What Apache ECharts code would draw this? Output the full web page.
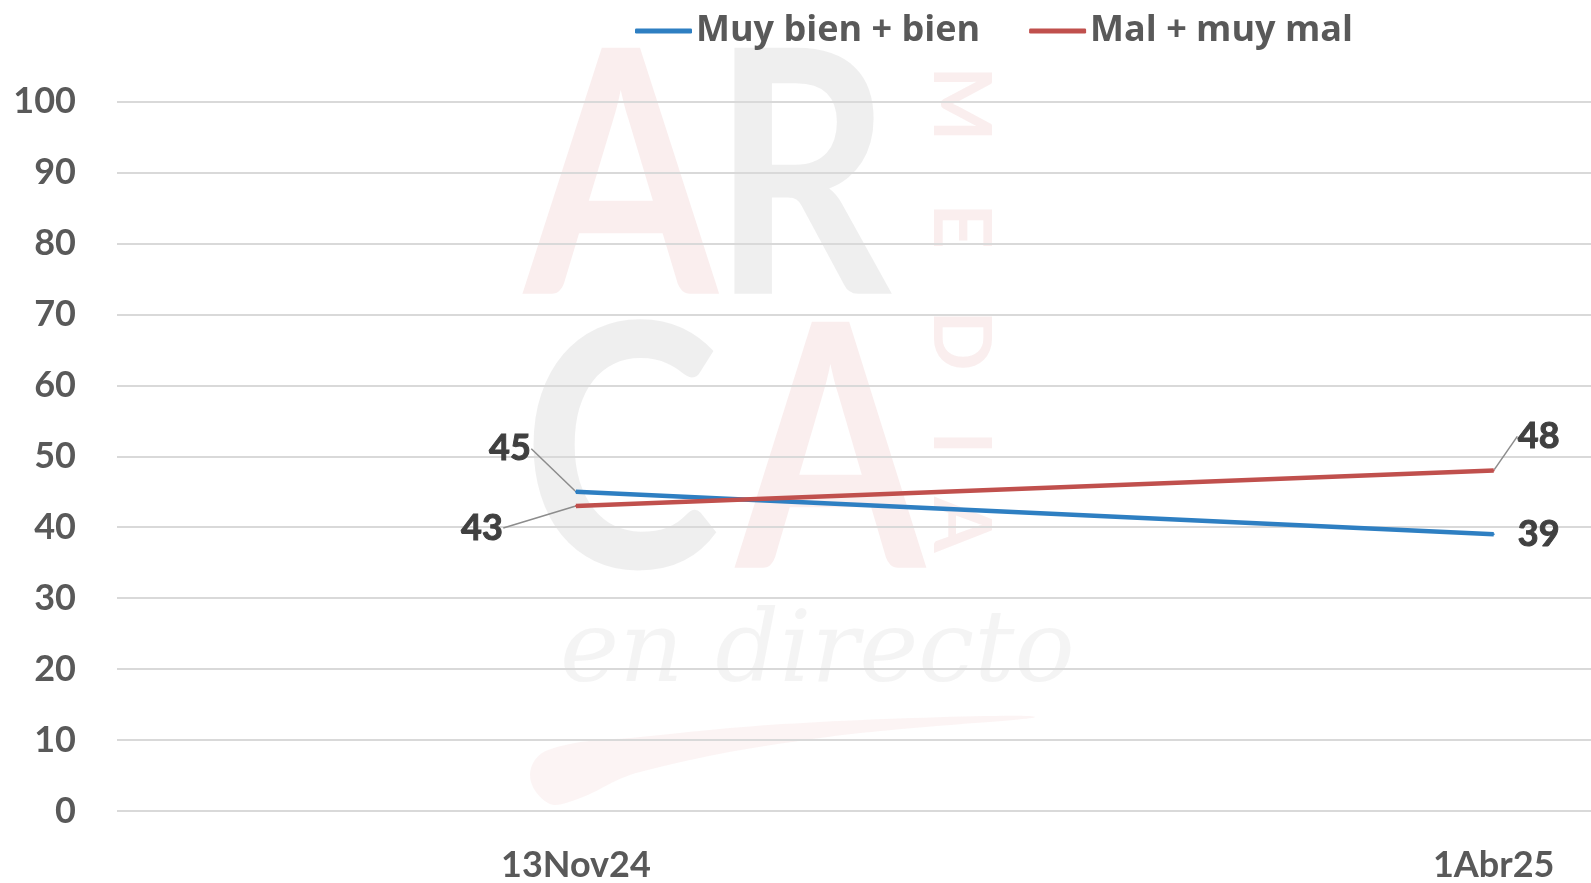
<!DOCTYPE html>
<html>
<head>
<meta charset="utf-8">
<title>Muy bien + bien / Mal + muy mal</title>
<script src="https://cdn.jsdelivr.net/npm/echarts@6/dist/echarts.min.js"></script>
<style>
    html, body { margin: 0; padding: 0; background: #fff; }
    #chart { width: 1591px; height: 883px; }
</style>
</head>
<body>
<div id="chart"></div>
<script>
// data
const categories = ['13Nov24', '1Abr25']
const seriesNames = ['Muy bien + bien', 'Mal + muy mal']
const goodValues = [45, 39]
const badValues = [43, 48]
const yTicks = [0, 10, 20, 30, 40, 50, 60, 70, 80, 90, 100]

// label offsets (px) from the point, and whether a leader line is drawn
const goodLabelShift = [[-66, -43], [45, 0]]
const goodLeader = [true, false]
const badLabelShift = [[-94, 22], [45, -34]]
const badLeader = [true, true]

const FONT = 'Lato, "Open Sans", sans-serif'
const BLUE = '#2e7fc2'
const RED = '#c0504d'

const chart = echarts.init(document.getElementById('chart'))

function makeSeries(name, values, color, shifts, leaders) {
    return {
        name: name,
        type: 'line',
        // x is the category index, so the dates sit where the original puts them
        data: values.map((v, i) => ({ value: [i, v], labelLine: { show: leaders[i] } })),
        symbol: 'circle',
        symbolSize: 2,
        showSymbol: true,
        itemStyle: { color: color },
        lineStyle: { color: color, width: 4.5 },
        z: 5,
        label: {
            show: true,
            position: 'inside',
            formatter: p => p.value[1],
            fontFamily: FONT,
            fontWeight: 'bold',
            fontSize: 36,
            color: '#404040',
            textBorderColor: '#404040',
            textBorderWidth: 1
        },
        labelLine: {
            show: true,
            lineStyle: { color: '#8c8c8c', width: 1.5 }
        },
        labelLayout: function (p) {
            const s = shifts[p.dataIndex]
            return { dx: s[0], dy: s[1] }
        },
        animation: false
    }
}

// faint logo in the background
const wmPink = 'rgba(232, 170, 170, 0.2)'
const wmGray = 'rgba(150, 150, 150, 0.15)'
const wmFont = 'bold 340px Lato, sans-serif'
const mediaLetters = ['M', 'E', 'D', 'I', 'A']
const mediaY = [66, 203, 310, 431, 497]

const logo = [
    { type: 'text', x: 524, y: 14, scaleX: 0.82, z: -10, silent: true,
        style: { text: 'A', font: wmFont, fill: wmPink } },
    { type: 'text', x: 712, y: 14, scaleX: 0.82, z: -10, silent: true,
        style: { text: 'R', font: wmFont, fill: wmGray } },
    { type: 'text', x: 522, y: 288, scaleX: 0.88, z: -10, silent: true,
        style: { text: 'C', font: wmFont, fill: wmGray } },
    { type: 'text', x: 736, y: 288, scaleX: 0.8, z: -10, silent: true,
        style: { text: 'A', font: wmFont, fill: wmPink } },
    { type: 'text', x: 560, y: 605, z: -10, silent: true,
        style: { text: 'en directo', font: 'italic 100px "DejaVu Serif", serif', fill: 'rgba(150,150,150,0.1)' } },
    { type: 'polygon', z: -10, silent: true,
        shape: {
            points: [[1035, 717], [820, 722], [640, 737], [548, 750], [530, 775],
                [548, 803], [575, 800], [640, 772], [820, 738]],
            smooth: 0.4
        },
        style: { fill: 'rgba(232, 170, 170, 0.13)' } }
]
mediaLetters.forEach((t, i) => {
    logo.push({ type: 'text', x: 1000, y: mediaY[i], rotation: -Math.PI / 2, z: -10, silent: true,
        style: { text: t, font: 'bold 80px Lato, sans-serif', fill: wmPink } })
})

chart.setOption({
    backgroundColor: '#ffffff',
    animation: false,
    graphic: logo,
    legend: {
        data: seriesNames,
        left: 630,
        top: 8,
        icon: 'roundRect',
        itemWidth: 57,
        itemHeight: 5,
        itemGap: 49,
        textStyle: {
            fontFamily: '"Open Sans", Lato, sans-serif',
            fontWeight: 'bold',
            fontSize: 36,
            color: '#595959',
            padding: [0, 0, 0, -1]
        }
    },
    grid: {
        left: 117,
        right: 0,
        top: 101.5,
        bottom: 72,
        containLabel: false
    },
    xAxis: {
        type: 'value',
        min: -0.5,
        max: 1.106,
        splitLine: { show: false },
        axisLine: { show: false },
        axisTick: { show: false },
        axisLabel: {
            customValues: categories.map((c, i) => i),
            formatter: v => categories[Math.round(v)],
            margin: 36,
            fontFamily: FONT,
            fontWeight: 'bold',
            fontSize: 36,
            color: '#595959'
        }
    },
    yAxis: {
        type: 'value',
        min: yTicks[0],
        max: yTicks[yTicks.length - 1],
        interval: yTicks[1] - yTicks[0],
        axisLine: { show: false },
        axisTick: { show: false },
        splitLine: { lineStyle: { color: '#d9d9d9', width: 2 } },
        axisLabel: {
            margin: 41,
            fontFamily: FONT,
            fontWeight: 'bold',
            fontSize: 36,
            color: '#595959'
        }
    },
    series: [
        makeSeries(seriesNames[0], goodValues, BLUE, goodLabelShift, goodLeader),
        makeSeries(seriesNames[1], badValues, RED, badLabelShift, badLeader)
    ]
})
</script>
</body>
</html>
